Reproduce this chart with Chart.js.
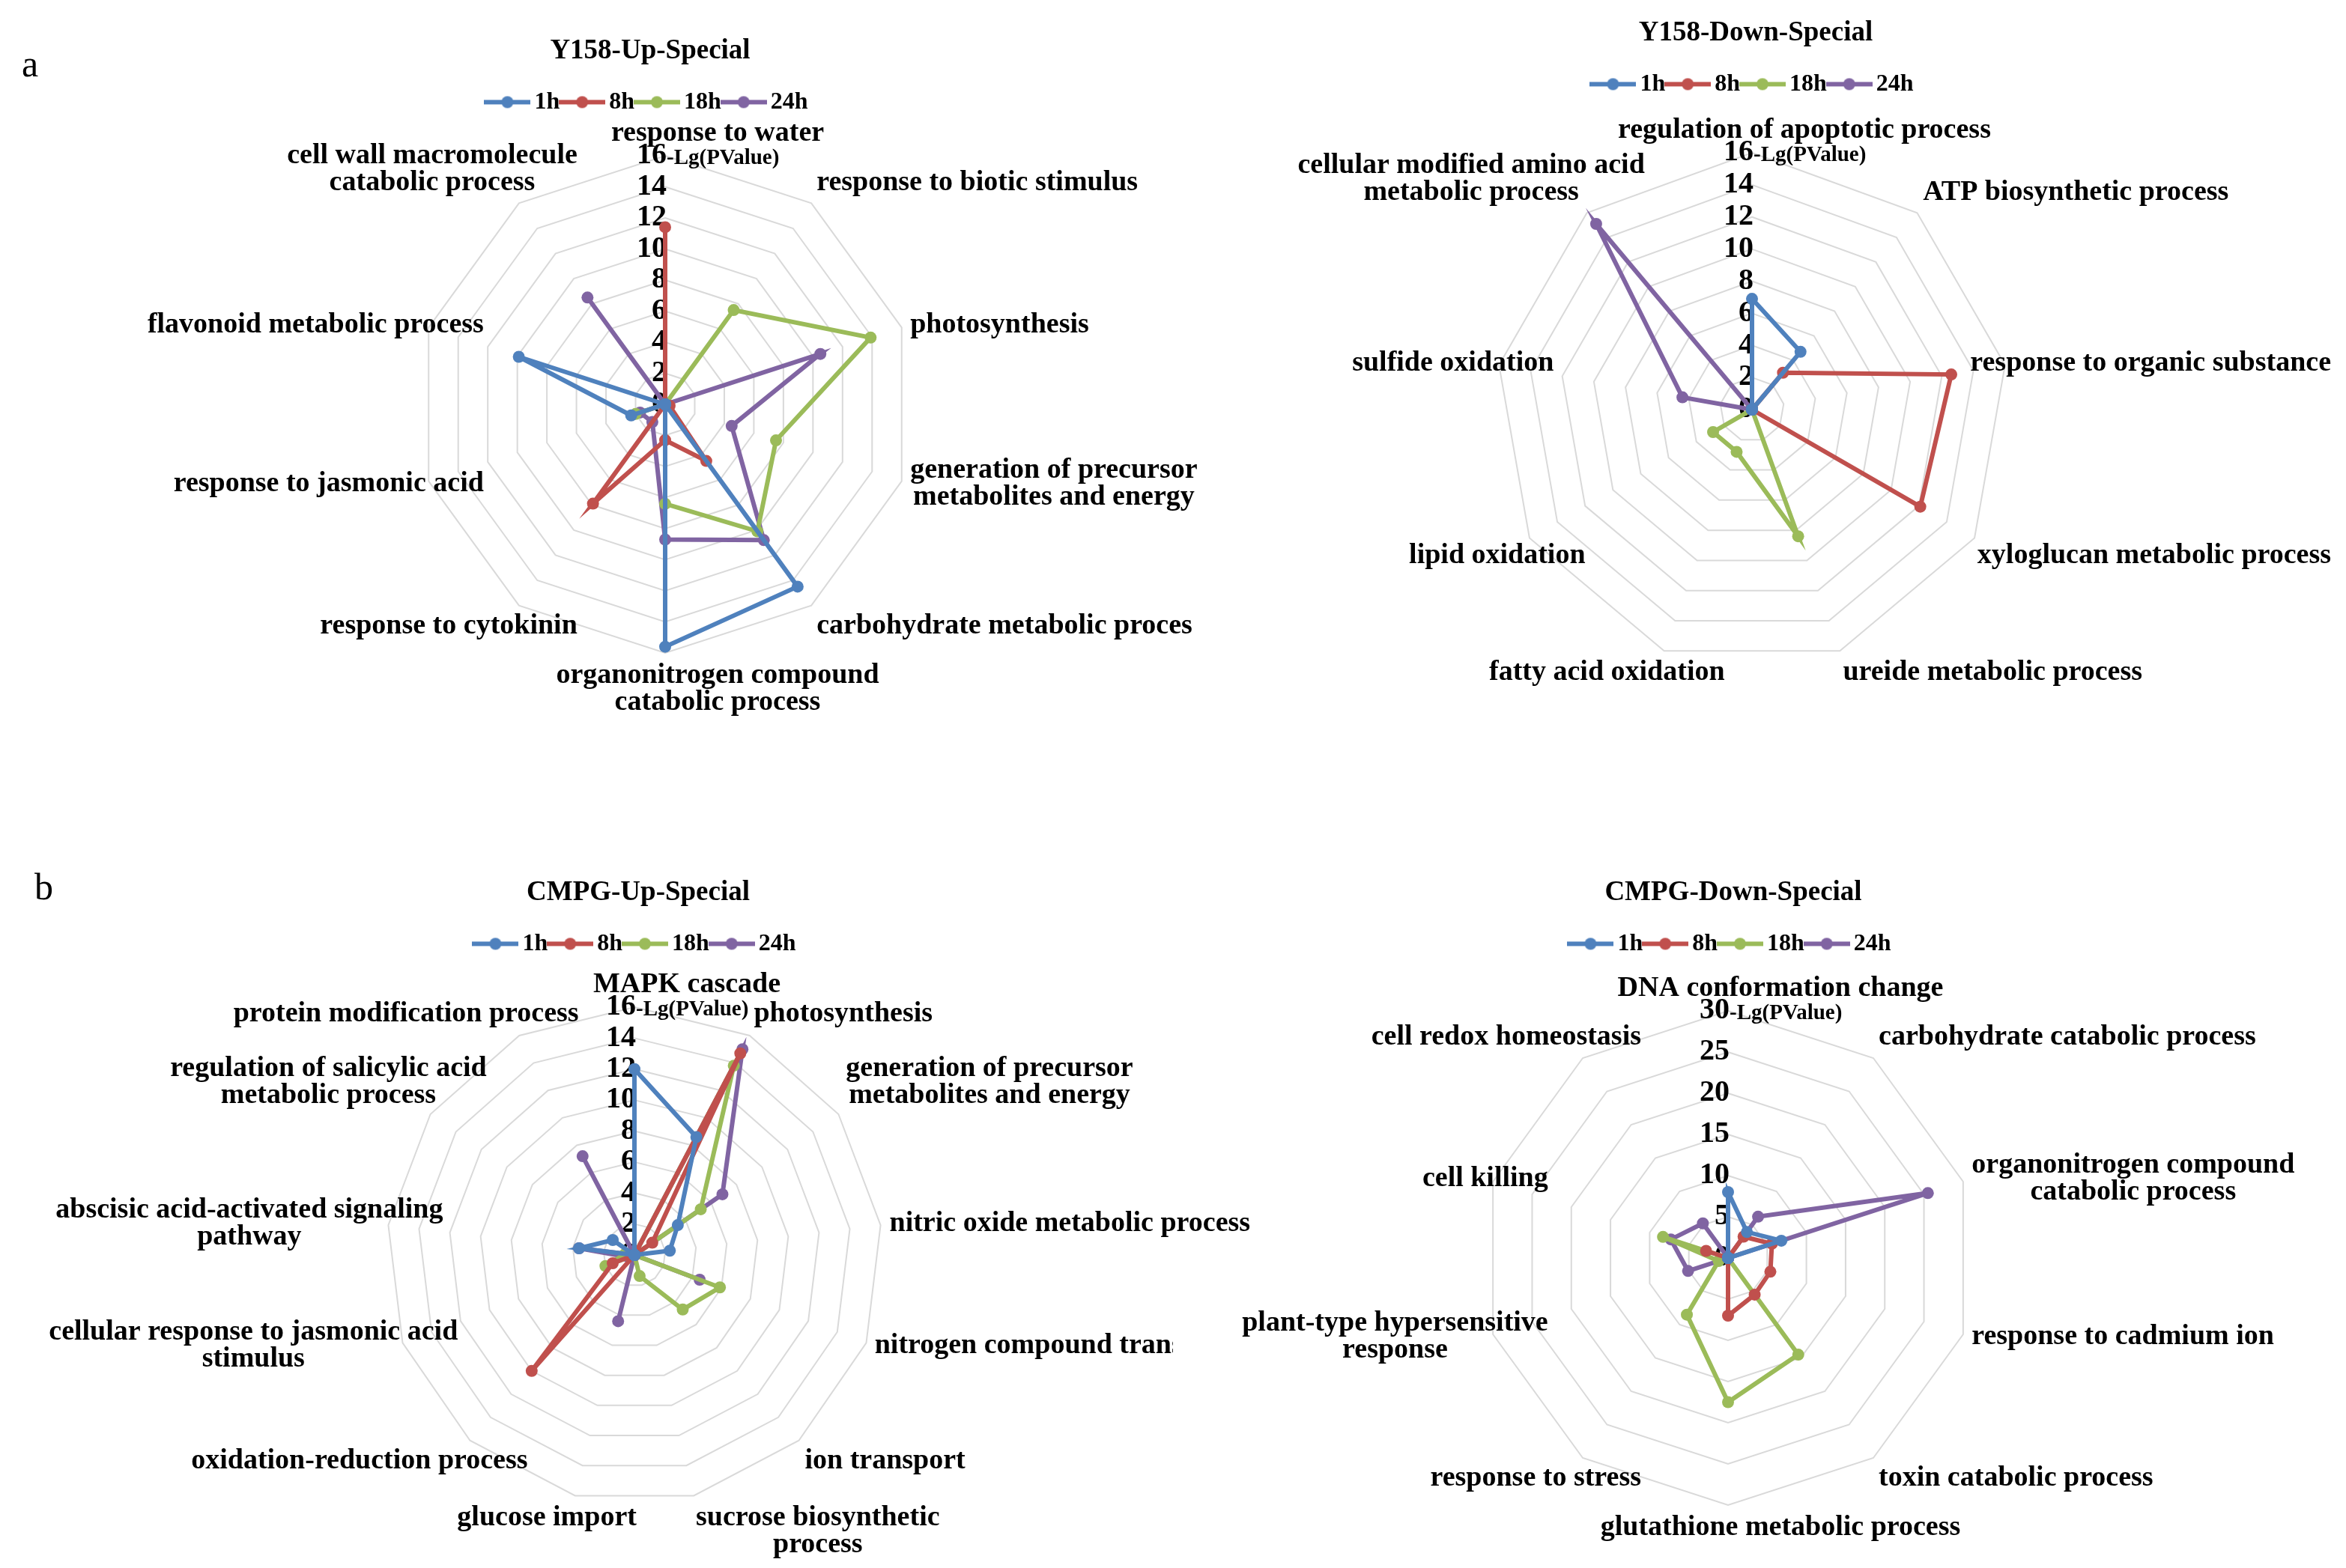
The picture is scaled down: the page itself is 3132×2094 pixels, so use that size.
<!DOCTYPE html>
<html>
<head>
<meta charset="utf-8">
<script src="https://cdn.jsdelivr.net/npm/chart.js@4.4.0/dist/chart.umd.min.js"></script>
<style>
html, body { margin: 0; padding: 0; background: #fff; }
body { width: 3132px; height: 2094px; position: relative; overflow: hidden; }
.box { position: absolute; }
.tag { position: absolute; font-family: "Liberation Serif", serif; font-size: 50px; line-height: 50px; color: #000; }
</style>
</head>
<body>
<div class="tag" style="left:29px; top:60px;">a</div>
<div class="tag" style="left:46px; top:1159px;">b</div>
<div class="box" style="left:0; top:24px; width:1640px; height:976px;"><canvas id="c1"></canvas></div>
<div class="box" style="left:1566px; top:0; width:1566px; height:1000px;"><canvas id="c2"></canvas></div>
<div class="box" style="left:0; top:1148px; width:1720px; height:946px;"><canvas id="c3"></canvas></div>
<div class="box" style="left:1566px; top:1148px; width:1566px; height:946px;"><canvas id="c4"></canvas></div>
<script>
// time points and colours
const timePoints = ['1h', '8h', '18h', '24h'];
const lineColors = ['#4F81BD', '#C0504D', '#9BBB59', '#8064A2'];
const axisTitle = '-Lg(PValue)';

// a: Y158 up
const y158UpTerms = ['response to water', 'response to biotic stimulus', 'photosynthesis',
  ['generation of precursor', 'metabolites and energy'], 'carbohydrate metabolic proces',
  ['organonitrogen compound', 'catabolic process'], 'response to cytokinin',
  'response to jasmonic acid', 'flavonoid metabolic process',
  ['cell wall macromolecule', 'catabolic process']];
const y158Up1h = [0, 0, 0, 0, 14.5, 15.6, 0, 2.3, 9.9, 0];
const y158Up8h = [11.4, 0, 0, 0.3, 4.5, 2.3, 7.9, 0, 0, 0];
const y158Up18h = [0, 7.5, 13.9, 7.5, 10.1, 6.4, 0, 2.0, 0, 0];
const y158Up24h = [0, 0, 10.5, 4.5, 10.8, 8.7, 1.4, 1.7, 0, 8.5];
const y158UpTicks = [0, 2, 4, 6, 8, 10, 12, 14, 16];

// a: Y158 down
const y158DownTerms = ['regulation of apoptotic process', 'ATP biosynthetic process',
  'response to organic substance', 'xyloglucan metabolic process', 'ureide metabolic process',
  'fatty acid oxidation', 'lipid oxidation', 'sulfide oxidation',
  ['cellular modified amino acid', 'metabolic process']];
const y158Down1h = [6.9, 4.7, 0, 0, 0, 0, 0, 0, 0];
const y158Down8h = [0, 3.0, 12.6, 12.1, 0, 0, 0, 0, 0];
const y158Down18h = [0, 0, 0, 0, 8.4, 2.8, 2.8, 0, 0];
const y158Down24h = [0, 0, 0, 0, 0, 0, 0, 4.4, 15.1];
const y158DownTicks = [0, 2, 4, 6, 8, 10, 12, 14, 16];

// b: CMPG up
const cmpgUpTerms = ['MAPK cascade', 'photosynthesis', ['generation of precursor', 'metabolites and energy'],
  'nitric oxide metabolic process', 'nitrogen compound transport', 'ion transport',
  ['sucrose biosynthetic', 'process'], 'glucose import', 'oxidation-reduction process',
  ['cellular response to jasmonic acid', 'stimulus'], ['abscisic acid-activated signaling', 'pathway'],
  ['regulation of salicylic acid', 'metabolic process'], 'protein modification process'];
const cmpgUp1h = [12.0, 8.6, 3.4, 2.3, 0, 0, 0, 0, 0, 0, 3.6, 1.7, 0];
const cmpgUp8h = [0, 14.7, 1.4, 0, 0, 0, 0, 0, 10.0, 1.5, 0, 0, 0];
const cmpgUp18h = [0, 13.8, 5.2, 0, 5.9, 4.7, 1.4, 0, 0, 2.0, 0.6, 0, 0];
const cmpgUp24h = [0, 15.0, 6.9, 0, 4.5, 0, 0, 4.4, 0, 0.4, 3.6, 0, 7.2];
const cmpgUpTicks = [0, 2, 4, 6, 8, 10, 12, 14, 16];

// b: CMPG down
const cmpgDownTerms = ['DNA conformation change', 'carbohydrate catabolic process',
  ['organonitrogen compound', 'catabolic process'], 'response to cadmium ion', 'toxin catabolic process',
  'glutathione metabolic process', 'response to stress', ['plant-type hypersensitive', 'response'],
  'cell killing', 'cell redox homeostasis'];
const cmpgDown1h = [8.0, 3.9, 6.8, 0, 0, 0, 0, 0, 0, 0];
const cmpgDown8h = [0, 3.2, 5.6, 5.4, 5.5, 7.0, 0, 0, 2.8, 0];
const cmpgDown18h = [0, 0, 0, 0, 14.5, 17.5, 8.5, 1.2, 8.3, 0];
const cmpgDown24h = [0, 6.2, 25.5, 0, 0, 0, 0, 5.1, 7.3, 5.2];
const cmpgDownTicks = [0, 5, 10, 15, 20, 25, 30];

Chart.defaults.font.family = '"Liberation Serif", "Times New Roman", serif';
Chart.defaults.color = '#000';

// legend marker: short line with a dot
function makeMarker(color) {
  const c = document.createElement('canvas');
  c.width = 62; c.height = 18;
  const g = c.getContext('2d');
  g.strokeStyle = color; g.lineWidth = 6;
  g.beginPath(); g.moveTo(0, 9); g.lineTo(62, 9); g.stroke();
  g.fillStyle = color;
  g.beginPath(); g.arc(31, 9, 8, 0, Math.PI * 2); g.fill();
  return c;
}
const markers = lineColors.map(makeMarker);

// tick numbers, axis title and category names, placed like Excel does
const excelLabels = {
  id: 'excelLabels',
  beforeDatasetsDraw(chart, args, o) {
    const s = chart.scales.r;
    const ctx = chart.ctx;
    ctx.save();
    ctx.fillStyle = '#000';
    ctx.textBaseline = 'middle';
    ctx.textAlign = 'right';
    ctx.font = 'bold 40px "Liberation Serif"';
    o.ticks.forEach(v => {
      ctx.fillText(String(v), s.xCenter + 2, s.yCenter - s.getDistanceFromCenterForValue(v));
    });
    const last = o.ticks[o.ticks.length - 1];
    ctx.textAlign = 'left';
    ctx.font = 'bold 29px "Liberation Serif"';
    ctx.fillText(axisTitle, s.xCenter + 2, s.yCenter - s.getDistanceFromCenterForValue(last) + 4);
    ctx.restore();
  },
  afterDraw(chart, args, o) {
    const s = chart.scales.r;
    const ctx = chart.ctx;
    const lh = 36;
    ctx.save();
    ctx.fillStyle = '#000';
    ctx.textBaseline = 'middle';
    ctx.textAlign = 'center';
    ctx.font = 'bold 38px "Liberation Serif"';
    chart.data.labels.forEach((lab, i) => {
      const lines = Array.isArray(lab) ? lab : [lab];
      const a = s.getIndexAngle(i);
      const sin = Math.sin(a), cos = Math.cos(a);
      const p = s.getPointPosition(i, s.drawingArea + 12);
      const w = Math.max(...lines.map(l => ctx.measureText(l).width));
      const h = lines.length * lh;
      let left;
      if (sin > 0.15) left = p.x;
      else if (sin < -0.15) left = p.x + 85 - w;
      else left = p.x + 70 - w / 2;
      if (o.maxRight && left + w > o.maxRight) left = o.maxRight - w;
      let top;
      if (cos > 0.4) top = p.y - h;
      else if (cos < -0.4) top = p.y;
      else top = p.y - h / 2;
      ctx.save();
      if (o.cut && o.cut.index === i) {
        ctx.beginPath();
        ctx.rect(0, 0, o.cut.right, chart.height);
        ctx.clip();
      }
      lines.forEach((l, k) => ctx.fillText(l, left + w / 2, top + lh * k + lh / 2));
      ctx.restore();
    });
    ctx.restore();
  }
};

function makeRadar(id, title, terms, values, ticks, box, extra) {
  const ctx = document.getElementById(id).getContext('2d');
  return new Chart(ctx, {
    type: 'radar',
    data: {
      labels: terms,
      datasets: values.map((v, i) => ({
        label: timePoints[i],
        data: v,
        borderColor: lineColors[i],
        backgroundColor: lineColors[i],
        pointBackgroundColor: lineColors[i],
        pointBorderColor: lineColors[i],
        borderWidth: 6,
        pointRadius: 8,
        pointHoverRadius: 8,
        pointBorderWidth: 0,
        fill: false,
        tension: 0,
        clip: false
      }))
    },
    options: {
      responsive: true,
      maintainAspectRatio: false,
      animation: false,
      layout: { padding: { left: box.padL, right: box.padR } },
      plugins: {
        title: {
          display: true, text: title, color: '#000',
          font: { size: 37, weight: 'bold' },
          padding: { top: 22, bottom: 20 }
        },
        legend: {
          position: 'top',
          labels: {
            usePointStyle: true,
            pointStyleWidth: 40,
            padding: 10,
            color: '#000',
            font: { size: 32, weight: 'bold' },
            generateLabels: c => c.data.datasets.map((ds, i) => ({
              text: ds.label, pointStyle: markers[i], fillStyle: ds.borderColor,
              strokeStyle: ds.borderColor, lineWidth: 0, hidden: false, datasetIndex: i, fontColor: '#000'
            }))
          }
        },
        tooltip: { enabled: false },
        excelLabels: Object.assign({ ticks: ticks }, extra || {})
      },
      scales: {
        r: {
          min: 0,
          max: ticks[ticks.length - 1],
          ticks: { display: false, stepSize: ticks[1] - ticks[0] },
          grid: { color: '#d9d9d9', lineWidth: 2 },
          angleLines: { display: false },
          pointLabels: { display: false },
          afterFit: s => { s.xCenter = box.cx; s.yCenter = box.cy; s.drawingArea = box.r; }
        }
      }
    },
    plugins: [excelLabels]
  });
}

makeRadar('c1', 'Y158-Up-Special', y158UpTerms, [y158Up1h, y158Up8h, y158Up18h, y158Up24h], y158UpTicks,
  { cx: 888, cy: 516, r: 332, padL: 96, padR: 0 });
makeRadar('c2', 'Y158-Down-Special', y158DownTerms, [y158Down1h, y158Down8h, y158Down18h, y158Down24h], y158DownTicks,
  { cx: 773, cy: 547, r: 343, padL: 0, padR: 10 }, { maxRight: 1546 });
makeRadar('c3', 'CMPG-Up-Special', cmpgUpTerms, [cmpgUp1h, cmpgUp8h, cmpgUp18h, cmpgUp24h], cmpgUpTicks,
  { cx: 847, cy: 528, r: 331, padL: 0, padR: 16 }, { cut: { index: 4, right: 1566 } });
makeRadar('c4', 'CMPG-Down-Special', cmpgDownTerms, [cmpgDown1h, cmpgDown8h, cmpgDown18h, cmpgDown24h], cmpgDownTicks,
  { cx: 741, cy: 532, r: 330, padL: 0, padR: 70 });
</script>
</body>
</html>
